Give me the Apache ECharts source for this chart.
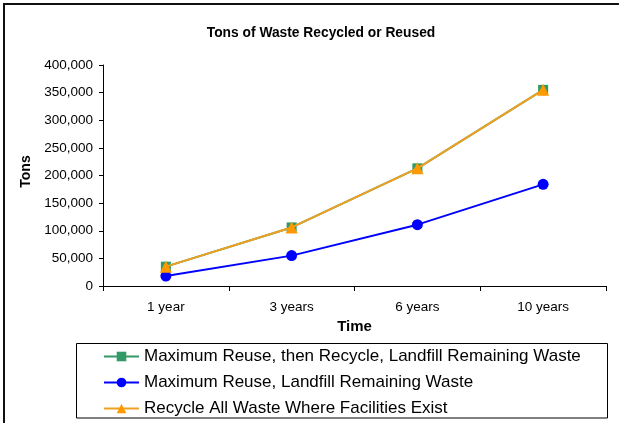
<!DOCTYPE html>
<html>
<head>
<meta charset="utf-8">
<script src="https://cdn.jsdelivr.net/npm/echarts@6/dist/echarts.min.js"></script>
<style>
  html, body { margin: 0; padding: 0; background: #fff; }
  #chart { width: 619px; height: 423px; }
</style>
</head>
<body>
<div id="chart"></div>
<script>
// Time periods along the horizontal axis
const periods = ['1 year', '3 years', '6 years', '10 years'];

// Tons of waste recycled or reused for each scenario
const reuseThenRecycle = [35000, 106000, 213000, 355000];
const reuseLandfill = [18000, 55000, 111000, 184000];
const recycleAll = [35000, 106000, 213000, 355000];

const seriesNames = [
  'Maximum Reuse, then Recycle, Landfill Remaining Waste',
  'Maximum Reuse, Landfill Remaining Waste',
  'Recycle All Waste Where Facilities Exist'
];

const font = 'Arial, "Liberation Sans", sans-serif';
const chart = echarts.init(document.getElementById('chart'), null, { renderer: 'canvas' });

chart.setOption({
  animation: false,
  backgroundColor: '#fff',
  title: {
    text: 'Tons of Waste Recycled or Reused',
    left: 316,
    top: 21,
    textAlign: 'center',
    textStyle: { fontFamily: font, fontSize: 13.8, fontWeight: 'bold', color: '#000' }
  },
  graphic: [
    {
      type: 'rect',
      shape: { x: 4, y: 4, width: 700, height: 500 },
      style: { fill: null, stroke: '#111', lineWidth: 2 },
      silent: true
    },
    {
      type: 'rect',
      shape: { x: 76.5, y: 343.5, width: 531, height: 74.5 },
      style: { fill: '#fff', stroke: '#000', lineWidth: 1 },
      z: 1,
      silent: true
    }
  ],
  grid: { left: 103, top: 65, right: 13, bottom: 137 },
  legend: {
    orient: 'vertical',
    left: 103,
    top: 348,
    itemGap: 9,
    itemWidth: 35,
    itemHeight: 12,
    padding: 0,
    z: 5,
    textStyle: { fontFamily: font, fontSize: 17, color: '#000' },
    data: seriesNames
  },
  xAxis: {
    type: 'category',
    data: periods,
    boundaryGap: true,
    name: 'Time',
    nameLocation: 'middle',
    nameGap: 26,
    nameTextStyle: { fontFamily: font, fontSize: 15, fontWeight: 'bold', color: '#000' },
    axisLine: { lineStyle: { color: '#000', width: 1 } },
    axisTick: { show: true, length: 5, lineStyle: { color: '#000' } },
    axisLabel: { fontFamily: font, fontSize: 13.5, color: '#000', margin: 14 },
    splitLine: { show: false }
  },
  yAxis: {
    type: 'value',
    min: 0,
    max: 400000,
    interval: 50000,
    name: 'Tons',
    nameLocation: 'middle',
    nameGap: 70,
    nameRotate: 90,
    nameTextStyle: { fontFamily: font, fontSize: 14, fontWeight: 'bold', color: '#000', padding: [0, 0, 0, 8] },
    axisLine: { show: true, lineStyle: { color: '#000', width: 1 } },
    axisTick: { show: true, length: 4, lineStyle: { color: '#000' } },
    axisLabel: {
      fontFamily: font, fontSize: 13.5, color: '#000', margin: 10,
      formatter: v => v.toLocaleString('en-US')
    },
    splitLine: { show: false }
  },
  series: [
    {
      name: seriesNames[0],
      type: 'line',
      data: reuseThenRecycle,
      symbol: 'rect',
      symbolSize: 10,
      itemStyle: { color: '#339966' },
      lineStyle: { color: '#339966', width: 2 },
      z: 2
    },
    {
      name: seriesNames[1],
      type: 'line',
      data: reuseLandfill,
      symbol: 'circle',
      symbolSize: 11,
      itemStyle: { color: '#0000FF' },
      lineStyle: { color: '#0000FF', width: 2 },
      z: 3
    },
    {
      name: seriesNames[2],
      type: 'line',
      data: recycleAll,
      symbol: 'triangle',
      symbolSize: 12,
      itemStyle: { color: '#FF9900' },
      lineStyle: { color: '#F0A020', width: 2 },
      z: 4
    }
  ]
});
</script>
</body>
</html>
